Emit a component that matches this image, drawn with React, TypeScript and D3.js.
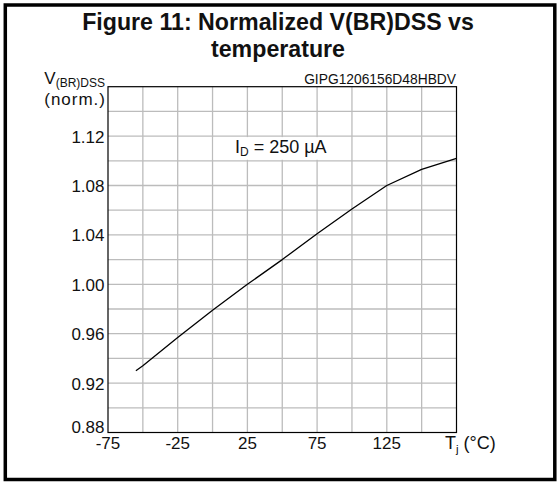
import * as d3 from "d3";

// Tj (°C) and normalized V(BR)DSS
const temps = [-55, -50, -25, 0, 25, 50, 75, 100, 125, 150, 175];
const vbr = [0.930, 0.934, 0.957, 0.979, 1.0, 1.02, 1.041, 1.061, 1.08, 1.093, 1.102];

const xTickLabels = [-75, -25, 25, 75, 125];
const yTickLabels = [0.88, 0.92, 0.96, 1.0, 1.04, 1.08, 1.12];
const xGrid = d3.range(-50, 175, 25);
const yGrid = d3.range(0.9, 1.159, 0.02);

const W = 559;
const H = 483;
const font = "Liberation Sans, Arial, sans-serif";

export default function App() {
  const x = d3.scaleLinear().domain([-75, 175]).range([108, 456.5]);
  const y = d3.scaleLinear().domain([0.88, 1.16]).range([432.5, 86.7]);

  const line = d3
    .line<number>()
    .x((d, i) => x(temps[i]))
    .y((d) => y(d));

  const [x0, x1] = x.range();
  const [y0, y1] = y.range();

  return (
    <svg
      width={W}
      height={H}
      style={{ position: "absolute", left: 0, top: 0, background: "#fff" }}
      fontFamily={font}
    >
      {/* outer frame */}
      <rect x={5.3} y={5} width={549.5} height={474.5} fill="none" stroke="#000" strokeWidth={3.5} />

      {/* title */}
      <g fontWeight="bold" fontSize={23.2} textAnchor="middle" fill="#111">
        <text x={278} y={30}>Figure 11: Normalized V(BR)DSS vs</text>
        <text x={278} y={56.5}>temperature</text>
      </g>

      {/* grid */}
      <g stroke="#bcbcbc" strokeWidth={1.3}>
        {xGrid.map((t) => (
          <line key={"vx" + t} x1={x(t)} x2={x(t)} y1={y0} y2={y1} />
        ))}
        {yGrid.map((v) => (
          <line key={"hy" + v.toFixed(2)} x1={x0} x2={x1} y1={y(v)} y2={y(v)} />
        ))}
      </g>

      {/* label box behind the current annotation */}
      <rect
        x={x(0) + 1}
        y={y(1.12) + 1}
        width={x(100) - x(0) - 2}
        height={y(1.1) - y(1.12) - 2}
        fill="#fff"
      />
      <text x={235} y={153.3} fontSize={18} fill="#111">
        I<tspan fontSize={12} dy={3}>D</tspan>
        <tspan dy={-3}> = 250 µA</tspan>
      </text>

      {/* plot border */}
      <rect x={x0} y={y1} width={x1 - x0} height={y0 - y1} fill="none" stroke="#000" strokeWidth={1.2} />

      {/* curve */}
      <path d={line(vbr) ?? ""} fill="none" stroke="#000" strokeWidth={1.3} strokeLinejoin="round" />

      {/* y tick labels */}
      <g fontSize={17} textAnchor="end" fill="#111">
        {yTickLabels.map((v) => (
          <text key={v} x={104.5} y={v === 0.88 ? y(v) : y(v) + 6.5}>
            {v.toFixed(2)}
          </text>
        ))}
      </g>

      {/* x tick labels */}
      <g fontSize={17} textAnchor="middle" fill="#111">
        {xTickLabels.map((t) => (
          <text key={t} x={x(t)} y={448.5}>
            {t}
          </text>
        ))}
      </g>
      <text x={445} y={448.5} fontSize={18} fill="#111">
        T<tspan fontSize={11.5} dy={4}>j</tspan>
        <tspan dy={-4}> (°C)</tspan>
      </text>

      {/* y axis title */}
      <g fontSize={17} fill="#111" textAnchor="end">
        <text x={105} y={84}>
          V<tspan fontSize={12} dy={2.5}>(BR)DSS</tspan>
        </text>
        <text x={106} y={104.5} letterSpacing={1}>(norm.)</text>
      </g>

      {/* figure code */}
      <text x={456} y={83.5} fontSize={13.8} textAnchor="end" fill="#111">
        GIPG1206156D48HBDV
      </text>
    </svg>
  );
}
